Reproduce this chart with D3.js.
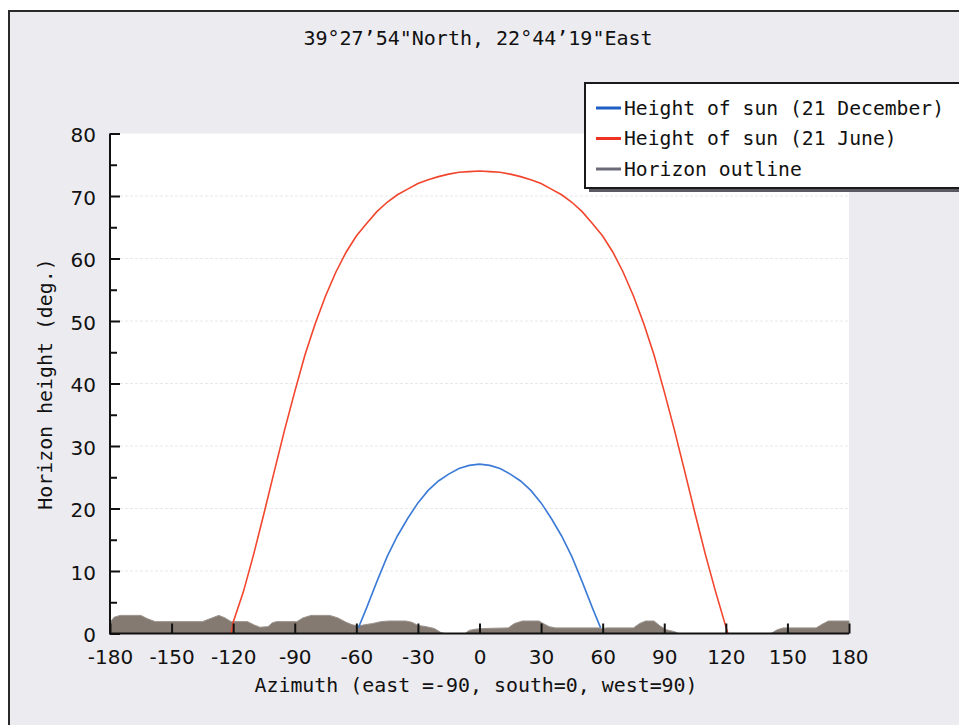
<!DOCTYPE html>
<html>
<head>
<meta charset="utf-8">
<script src="https://cdn.jsdelivr.net/npm/d3@7"></script>
<style>
  html, body { margin: 0; padding: 0; background: #fff; }
  svg { display: block; }
</style>
</head>
<body>
<div id="chart"></div>
<script>
// Sun height on 21 June, [azimuth, degrees]
const juneSun = [
  [-121, 0.0], [-120, 1.8], [-115, 6.7], [-110, 12.7], [-105, 19.2], [-100, 25.9],
  [-95, 32.5], [-90, 38.7], [-85, 44.6], [-80, 49.6], [-75, 54.0], [-70, 57.8],
  [-65, 61.0], [-60, 63.6], [-55, 65.6], [-50, 67.5], [-45, 69.0], [-40, 70.2],
  [-35, 71.1], [-30, 72.0], [-25, 72.6], [-20, 73.1], [-15, 73.5], [-10, 73.8],
  [-5, 73.9], [0, 74.0], [5, 73.9], [10, 73.8], [15, 73.5], [20, 73.1], [25, 72.6],
  [30, 72.0], [35, 71.1], [40, 70.2], [45, 69.0], [50, 67.5], [55, 65.6], [60, 63.6],
  [65, 61.0], [70, 57.8], [75, 54.0], [80, 49.6], [85, 44.6], [90, 38.7], [95, 32.5],
  [100, 25.9], [105, 19.2], [110, 12.7], [115, 6.7], [120, 1.1], [121, 0.0]
];

// Sun height on 21 December
const decemberSun = [
  [-59, 0.9], [-55, 4.1], [-50, 8.3], [-45, 12.3], [-40, 15.6], [-35, 18.4],
  [-30, 20.9], [-25, 22.9], [-20, 24.4], [-15, 25.5], [-10, 26.4], [-5, 26.9],
  [0, 27.1], [5, 26.9], [10, 26.4], [15, 25.5], [20, 24.4], [25, 22.9], [30, 20.9],
  [35, 18.4], [40, 15.6], [45, 12.3], [50, 8.3], [55, 4.1], [59, 0.9]
];

// Horizon outline
const horizon = [
  [-180, 1.8], [-178, 2.6], [-175, 2.9], [-165, 2.9], [-162, 2.4], [-158, 1.9],
  [-135, 1.9], [-131, 2.4], [-127, 2.9], [-124, 2.5], [-121, 1.9], [-113, 1.9],
  [-110, 1.4], [-107, 1.0], [-103, 1.1], [-101, 1.7], [-99, 1.9], [-89, 1.9],
  [-86, 2.5], [-82, 2.9], [-73, 2.9], [-69, 2.5], [-65, 1.8], [-62, 1.4], [-59, 1.2],
  [-56, 1.4], [-52, 1.6], [-48, 1.9], [-44, 2.0], [-36, 2.0], [-33, 1.8], [-30, 1.3],
  [-26, 1.1], [-22, 0.8], [-19, 0.2], [-17, 0], [-7, 0], [-5, 0.5], [-2, 0.7],
  [2, 0.8], [14, 0.9], [17, 1.6], [21, 2.0], [29, 2.0], [31, 1.6], [34, 1.1],
  [37, 0.9], [58, 0.9], [60, 0.8], [62, 0.9], [75, 0.9], [78, 1.6], [81, 2.0],
  [85, 2.0], [88, 1.2], [91, 0.6], [95, 0.3], [97, 0], [142, 0], [145, 0.6],
  [148, 0.9], [164, 0.9], [167, 1.5], [170, 2.0], [180, 2.0]
];

const xTicks = [-180, -150, -120, -90, -60, -30, 0, 30, 60, 90, 120, 150, 180];
const yTicks = [0, 10, 20, 30, 40, 50, 60, 70, 80];
const yMinorTicks = [5, 15, 25, 35, 45, 55, 65, 75];

const legendItems = [
  { label: 'Height of sun (21 December)', color: '#1f5fc4' },
  { label: 'Height of sun (21 June)', color: '#ee3322' },
  { label: 'Horizon outline', color: '#6a6a78' }
];

const title = '39°27’54"North, 22°44’19"East';
const xTitle = 'Azimuth (east =-90, south=0, west=90)';
const yTitle = 'Horizon height (deg.)';

const W = 959, H = 725;
const mono = '"DejaVu Sans Mono", monospace';
const sans = '"DejaVu Sans", sans-serif';

const svg = d3.select('#chart').append('svg')
  .attr('width', W)
  .attr('height', H);

// outer frame
svg.append('rect')
  .attr('x', 9).attr('y', 11)
  .attr('width', W + 20).attr('height', H + 20)
  .attr('fill', '#ecebf0')
  .attr('stroke', '#2a2a2a')
  .attr('stroke-width', 2);

const x = d3.scaleLinear().domain([-180, 180]).range([110, 849]);
const y = d3.scaleLinear().domain([0, 80]).range([633.5, 133.5]);

// plot area
svg.append('rect')
  .attr('x', x(-180)).attr('y', y(80))
  .attr('width', x(180) - x(-180)).attr('height', y(0) - y(80))
  .attr('fill', '#fff');

// faint grid
svg.append('g')
  .selectAll('line')
  .data(yTicks.filter(d => d > 0 && d < 80))
  .join('line')
  .attr('x1', x(-180)).attr('x2', x(180))
  .attr('y1', d => y(d)).attr('y2', d => y(d))
  .attr('stroke', '#e8e8ec')
  .attr('stroke-dasharray', '3,2');

// horizon outline
svg.append('path')
  .datum(horizon)
  .attr('fill', '#847a72')
  .attr('stroke', '#9a928b')
  .attr('stroke-width', 1)
  .attr('d', d3.area()
    .x(d => x(d[0]))
    .y0(y(0))
    .y1(d => y(d[1])));

const line = d3.line().x(d => x(d[0])).y(d => y(d[1]));

svg.append('path')
  .datum(juneSun)
  .attr('fill', 'none')
  .attr('stroke', '#f2452d')
  .attr('stroke-width', 1.6)
  .attr('d', line);

svg.append('path')
  .datum(decemberSun)
  .attr('fill', 'none')
  .attr('stroke', '#3b7ad6')
  .attr('stroke-width', 1.6)
  .attr('d', line);

// X axis
const gx = svg.append('g')
  .attr('transform', `translate(0,${y(0)})`)
  .call(d3.axisBottom(x)
    .tickValues(xTicks)
    .tickSizeInner(-10)
    .tickSizeOuter(0)
    .tickPadding(16)
    .tickFormat(d => String(d)));
gx.select('.domain').remove();
gx.selectAll('line').attr('stroke', '#111').attr('stroke-width', 2);
gx.selectAll('text')
  .attr('font-family', sans)
  .attr('font-size', '20px')
  .attr('fill', '#111');

// Y axis
const gy = svg.append('g')
  .attr('transform', `translate(${x(-180)},0)`)
  .call(d3.axisLeft(y)
    .tickValues(yTicks)
    .tickSizeInner(-10)
    .tickSizeOuter(0)
    .tickPadding(14)
    .tickFormat(d => String(d)));
gy.select('.domain').remove();
gy.selectAll('line').attr('stroke', '#111').attr('stroke-width', 2);
gy.selectAll('text')
  .attr('font-family', sans)
  .attr('font-size', '20px')
  .attr('dy', '0.4em')
  .attr('fill', '#111');

// minor y ticks
const gyMinor = svg.append('g')
  .attr('transform', `translate(${x(-180)},0)`)
  .call(d3.axisLeft(y)
    .tickValues(yMinorTicks)
    .tickSizeInner(-7)
    .tickSizeOuter(0)
    .tickFormat(''));
gyMinor.select('.domain').remove();
gyMinor.selectAll('line').attr('stroke', '#111').attr('stroke-width', 2);

// axis lines
svg.append('line')
  .attr('x1', x(-180)).attr('x2', x(180))
  .attr('y1', y(0)).attr('y2', y(0))
  .attr('stroke', '#111').attr('stroke-width', 2);
svg.append('line')
  .attr('x1', x(-180)).attr('x2', x(-180))
  .attr('y1', y(80)).attr('y2', y(0) + 1)
  .attr('stroke', '#111').attr('stroke-width', 2);

// titles
svg.append('text')
  .attr('x', 478).attr('y', 45)
  .attr('text-anchor', 'middle')
  .attr('font-family', mono)
  .attr('font-size', '20px')
  .attr('fill', '#111')
  .text(title);

svg.append('text')
  .attr('x', 476).attr('y', 692)
  .attr('text-anchor', 'middle')
  .attr('font-family', mono)
  .attr('font-size', '19.9px')
  .attr('fill', '#111')
  .text(xTitle);

svg.append('text')
  .attr('transform', 'translate(52,384) rotate(-90)')
  .attr('text-anchor', 'middle')
  .attr('font-family', mono)
  .attr('font-size', '19.9px')
  .attr('fill', '#111')
  .text(yTitle);

// legend
const lg = svg.append('g');
lg.append('rect')
  .attr('x', 589).attr('y', 87)
  .attr('width', 400).attr('height', 105)
  .attr('fill', '#5a5860');
lg.append('rect')
  .attr('x', 585).attr('y', 83)
  .attr('width', 400).attr('height', 105)
  .attr('fill', '#fff')
  .attr('stroke', '#1a1a1a')
  .attr('stroke-width', 2);

const rows = lg.selectAll('g.row')
  .data(legendItems)
  .join('g')
  .attr('class', 'row')
  .attr('transform', (d, i) => `translate(0,${108 + i * 30.5})`);
rows.append('line')
  .attr('x1', 596).attr('x2', 621)
  .attr('y1', 0).attr('y2', 0)
  .attr('stroke', d => d.color)
  .attr('stroke-width', 3);
rows.append('text')
  .attr('x', 624).attr('y', 6.5)
  .attr('font-family', mono)
  .attr('font-size', '19.7px')
  .attr('fill', '#111')
  .text(d => d.label);
</script>
</body>
</html>
